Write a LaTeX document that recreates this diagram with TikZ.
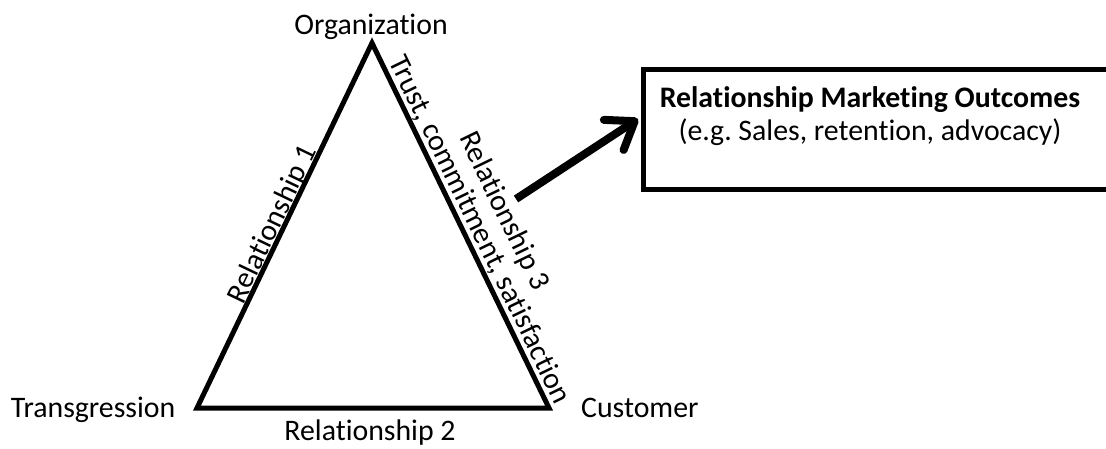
\documentclass[tikz,border=0pt]{standalone}
\usepackage{fontspec}
\setmainfont{Carlito}[Ligatures=NoCommon]
\frenchspacing
\usetikzlibrary{calc,arrows.meta}
\tikzset{
  lbl/.style={inner sep=0pt, font=\fontsize{29.8}{35}\selectfont},
  edge/.style={line width=5pt, line join=miter},
  outbox/.style={draw, line width=5pt, minimum width=500pt, minimum height=120pt, anchor=north west, inner sep=0pt},
  bigarrow/.style={line width=8pt, -{Straight Barb[length=25pt,width=36pt,line cap=round,line join=round]}}
}
\begin{document}
\begin{tikzpicture}[x=1pt,y=-1pt]
\useasboundingbox (0,0) rectangle (1106,448);
\clip (0,0) rectangle (1106,448);
% vertices
\coordinate (O) at (372,43);
\coordinate (T) at (197,408);
\coordinate (C) at (549,408);
\draw[edge] (T) -- (O) -- (C) -- cycle;
% vertex labels
\node[lbl, anchor=base] (org) at (371,34) {Organization};
\node[lbl, anchor=base east] (trans) at (175.5,417) {Transgression};
\node[lbl, anchor=base west] (cust) at (581,417) {Customer};
% edge labels
\node[lbl, anchor=base] (rel2) at (370,440) {Relationship 2};
\node[lbl, anchor=base, rotate=64.39] (rel1) at ($(T)!0.49!(O)!3pt!90:(O)$) {Relationship 1};
\node[lbl, anchor=base, rotate=-64.13] (trust) at ($(O)!0.53!(C)!7pt!90:(C)$) {Trust, commitment, satisfaction};
\node[lbl, anchor=base, rotate=-64.13] (rel3) at ($(O)!0.515!(C)!37pt!90:(C)$) {Relationship 3};
% outcome box
\node[outbox] (box) at (641,67) {};
\node[lbl, anchor=base, font=\fontsize{29.8}{35}\selectfont\bfseries] (out1) at (870,107) {Relationship Marketing Outcomes};
\node[lbl, anchor=base] (out2) at (870,140) {(e.g. Sales, retention, advocacy)};
% arrow
\coordinate (a0) at (516,199);
\coordinate (a1) at (638,119);
\draw[bigarrow] (a0) -- (a1);
\end{tikzpicture}
\end{document}
